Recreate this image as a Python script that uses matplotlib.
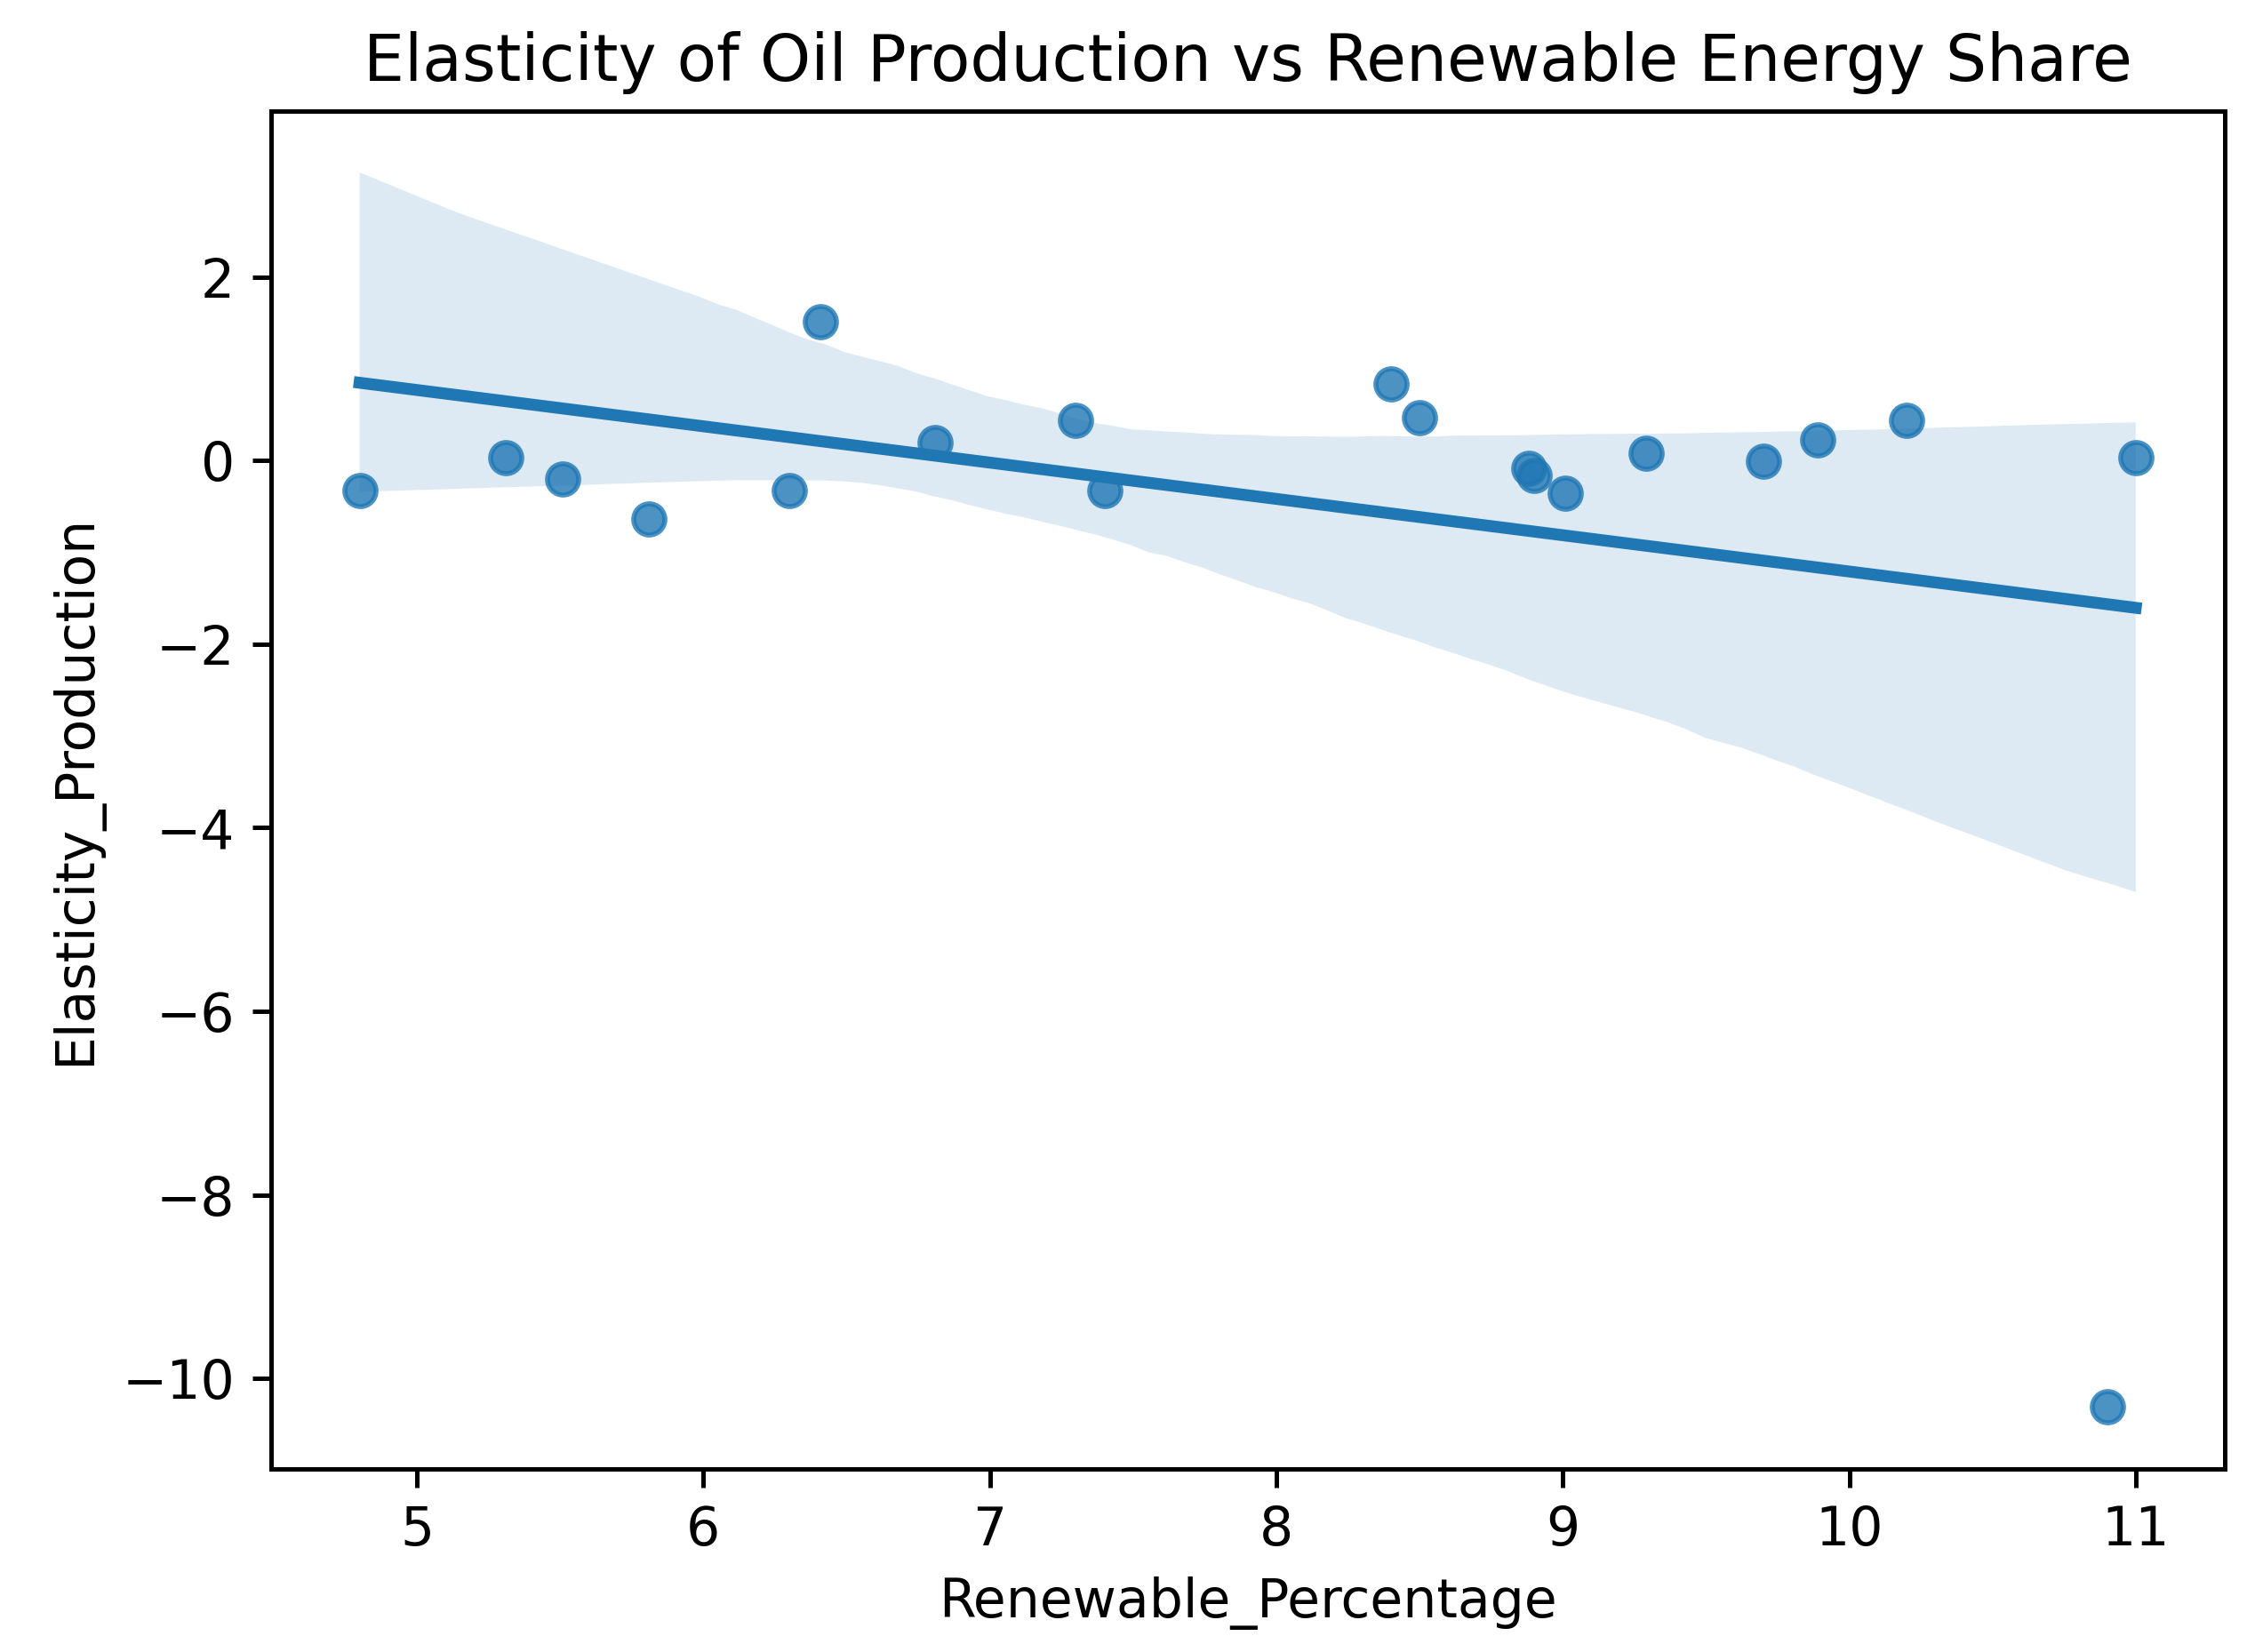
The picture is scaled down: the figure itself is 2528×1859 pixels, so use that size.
import matplotlib
matplotlib.use("Agg")
import matplotlib.pyplot as plt
import seaborn as sns
import pandas as pd

# values
renewable_pct = [4.8, 5.31, 5.51, 5.81, 6.3, 6.41, 6.81, 7.3, 7.4, 8.4,
                 8.5, 8.88, 8.9, 9.01, 9.29, 9.7, 9.89, 10.2, 11.0, 10.9]
elasticity = [-0.33, 0.03, -0.2, -0.64, -0.33, 1.51, 0.2, 0.44, -0.33, 0.84,
              0.47, -0.08, -0.16, -0.36, 0.08, -0.01, 0.23, 0.44, 0.03, -10.31]

df = pd.DataFrame({"Renewable_Percentage": renewable_pct,
                   "Elasticity_Production": elasticity})

plt.rcParams["font.size"] = 10.8

fig, ax = plt.subplots(figsize=(6.32, 4.6475), dpi=400)
fig.subplots_adjust(left=0.1205, right=0.990, bottom=0.111, top=0.933)

sns.regplot(data=df, x="Renewable_Percentage", y="Elasticity_Production",
            ax=ax, seed=7, scatter_kws={"s": 40}, line_kws={"lw": 2.4})

ax.set_title("Elasticity of Oil Production vs Renewable Energy Share", fontsize=13.1)
for s in ax.spines.values():
    s.set_linewidth(0.9)
ax.tick_params(width=0.9, length=3.8)

fig.savefig("out.png", dpi=400)
